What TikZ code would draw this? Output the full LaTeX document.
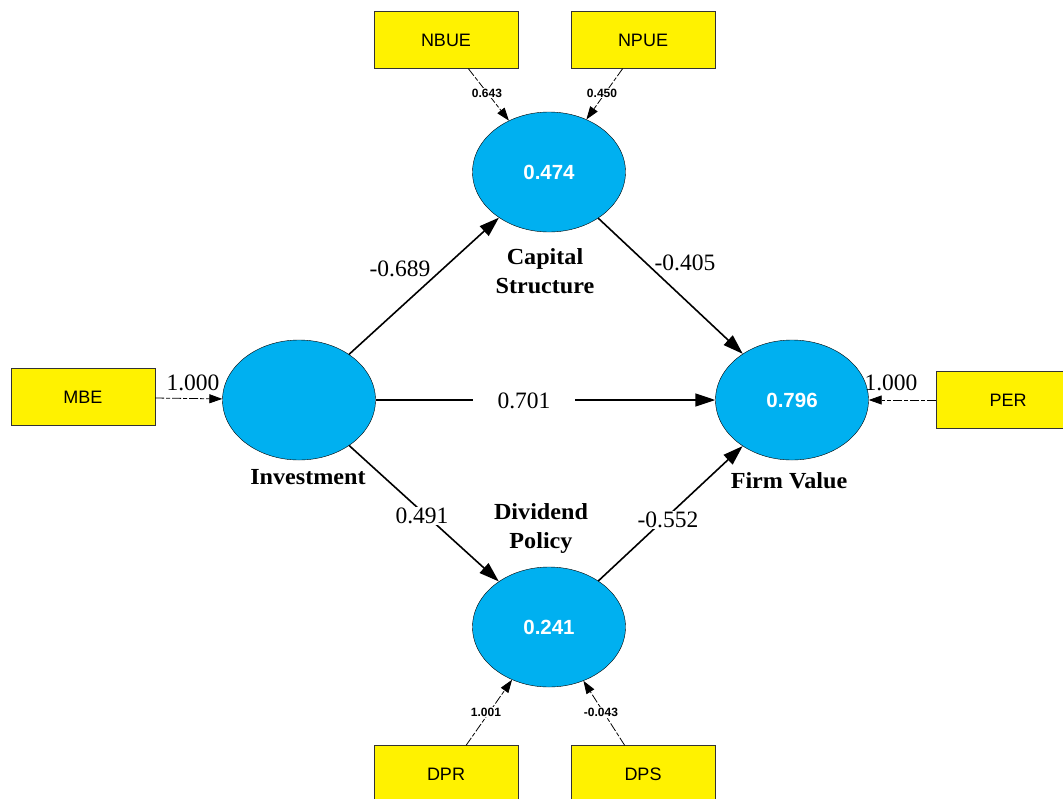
\documentclass[tikz,border=0pt]{standalone}
\usepackage{fontspec}
\setmainfont{Liberation Serif}
\setsansfont{Liberation Sans}
\newfontfamily\labfont[FakeStretch=1.05]{Liberation Serif}
\usetikzlibrary{shapes.geometric,arrows.meta,positioning}
\definecolor{latblue}{HTML}{00B0F0}

\begin{document}
\begin{tikzpicture}[x=1pt, y=-1pt,
    latent/.style={ellipse, draw, thin, fill=latblue, minimum width=153pt, minimum height=120pt, inner sep=0pt, text=white, font=\sffamily\bfseries\fontsize{20.5}{24}\selectfont},
    indicator/.style={rectangle, draw=black!80, thin, fill=yellow, minimum width=144pt, minimum height=57pt, font=\sffamily\fontsize{18}{21}\selectfont},
    arrow/.style={-{Triangle[length=20pt,width=13pt]}, line width=1.6pt},
    load/.style={-{Triangle[length=13pt,width=9pt]}, line width=0.8pt, dash pattern=on 9pt off 2pt on 4pt off 2pt},
    coef/.style={font=\fontsize{23.5}{26}\selectfont, inner sep=1pt},
    weight/.style={font=\sffamily\bfseries\fontsize{12}{14}\selectfont, fill=white, inner sep=1pt},
    construct/.style={font=\labfont\bfseries\fontsize{23}{29}\selectfont, align=center, inner sep=0pt}
]
    \clip (0,0) rectangle (1063,798);
    \useasboundingbox (0,0) rectangle (1063,798);

    % latent variables
    \node[latent] (inv) at (299,400) {};
    \node[latent] (cs)  at (549,172) {0.474};
    \node[latent] (dp)  at (549,627) {0.241};
    \node[latent] (fv)  at (792,400) {0.796};

    \node[construct] (invlab) at (308,477) {Investment};
    \node[construct] (cslab)  at (545,271) {Capital\\Structure};
    \node[construct] (dplab)  at (541,528) {Dividend\\Policy};
    \node[construct] (fvlab)  at (789,481) {Firm Value};

    % indicators
    \node[indicator] (mbe)  at (83,397)  {MBE};
    \node[indicator] (per)  at (1008,400) {PER};
    \node[indicator] (nbue) at (446,40)  {NBUE};
    \node[indicator] (npue) at (643,40)  {NPUE};
    \node[indicator] (dpr)  at (446,774) {DPR};
    \node[indicator] (dps)  at (643,774) {DPS};

    % structural paths
    \draw[arrow] (inv) -- (cs);
    \draw[arrow] (cs) -- (fv);
    \draw[arrow] (inv) -- (fv);
    \draw[arrow] (inv) -- (dp);
    \draw[arrow] (dp) -- (fv);

    \node[coef] (c1) at (400,269) {-0.689};
    \node[coef] (c2) at (685,263) {-0.405};
    \node[coef, fill=white, inner xsep=25pt] (c3) at (524,401) {0.701};
    \node[coef, fill=white] (c4) at (422,516) {0.491};
    \node[coef, fill=white] (c5) at (668,520) {-0.552};

    % measurement paths
    \draw[load] (mbe) -- (inv);
    \draw[load] (per) -- (fv);
    \draw[load] (nbue) -- (cs);
    \draw[load] (npue) -- (cs);
    \draw[load] (dpr) -- (dp);
    \draw[load] (dps) -- (dp);

    \node[coef] (m1) at (193,383) {1.000};
    \node[coef] (m2) at (891,383) {1.000};
    \node[weight] (w1) at (487,93)  {0.643};
    \node[weight] (w2) at (602,93)  {0.450};
    \node[weight] (w3) at (486,712) {1.001};
    \node[weight] (w4) at (601,712) {-0.043};
\end{tikzpicture}
\end{document}
